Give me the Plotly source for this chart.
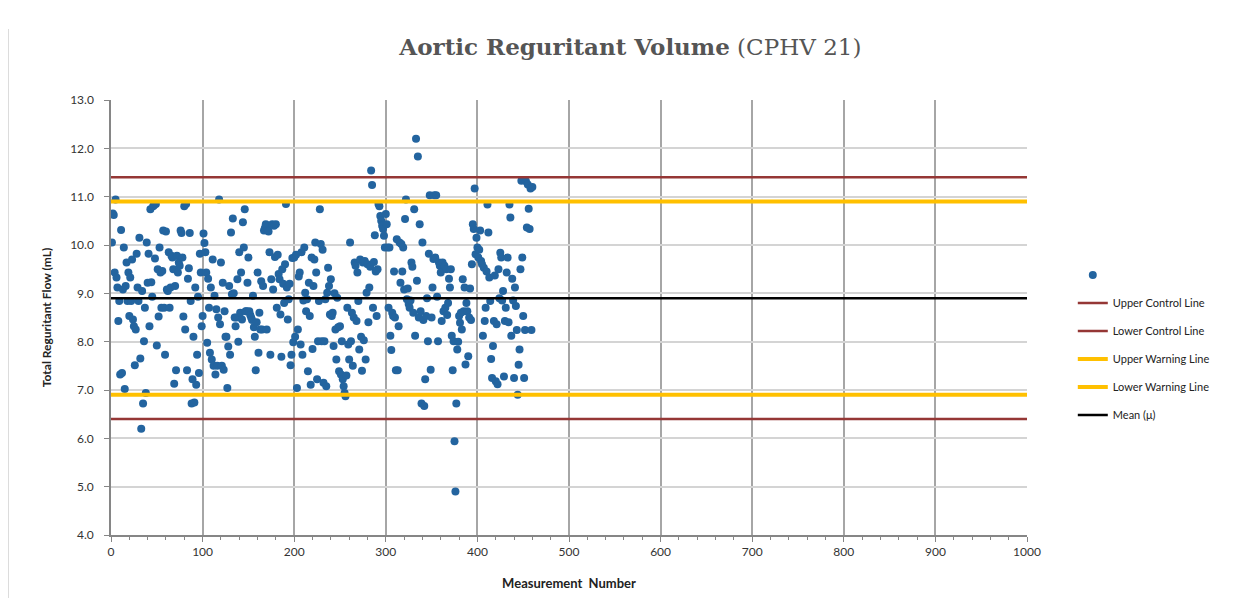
import plotly.graph_objects as go

measurement_values = [
    10.05, 10.65, 10.62, 9.43, 10.94, 9.33, 9.12, 8.43, 8.84, 7.32,
    10.31, 7.35, 9.08, 9.95, 7.02, 9.15, 9.64, 8.84, 9.43, 8.53,
    9.33, 8.84, 9.70, 8.46, 8.32, 7.51, 8.25, 9.82, 9.12, 8.84,
    10.15, 7.65, 6.20, 9.05, 6.72, 8.01, 8.70, 6.94, 10.05, 9.22,
    9.82, 8.32, 10.74, 9.23, 8.93, 10.80, 10.82, 9.72, 10.85, 7.92,
    9.50, 8.52, 9.95, 9.43, 8.70, 9.46, 10.30, 8.70, 7.73, 10.28,
    9.08, 9.05, 9.85, 8.70, 9.12, 9.78, 9.74, 9.50, 7.13, 9.15,
    7.41, 9.78, 9.43, 9.64, 9.57, 10.30, 10.25, 9.74, 8.52, 10.80,
    8.25, 10.85, 7.41, 9.30, 9.52, 10.25, 8.84, 6.72, 7.22, 8.10,
    6.74, 9.12, 7.11, 7.73, 8.93, 7.35, 9.82, 9.43, 8.32, 8.53,
    10.24, 10.04, 9.85, 9.43, 7.98, 9.30, 8.70, 7.77, 9.12, 7.63,
    9.70, 7.50, 8.95, 7.32, 8.67, 7.50, 8.50, 10.94, 8.36, 9.64,
    7.50, 9.22, 7.42, 8.63, 8.10, 8.10, 7.04, 7.90, 9.15, 7.73,
    10.26, 8.98, 10.55, 9.00, 8.50, 8.32, 8.50, 9.29, 8.00, 9.85,
    8.60, 9.43, 8.46, 10.47, 9.95, 10.74, 8.63, 8.63, 9.22, 9.74,
    8.63, 8.55, 8.50, 8.45, 8.95, 8.30, 8.10, 7.41, 8.40, 9.43,
    7.77, 8.60, 8.25, 9.25, 8.25, 9.15, 10.30, 10.35, 10.43, 8.25,
    10.30, 10.28, 9.85, 7.73, 9.29, 10.43, 9.08, 10.40, 9.75, 10.43,
    8.70, 9.80, 9.40, 9.29, 8.56, 7.69, 9.50, 9.20, 8.80, 9.60,
    10.85, 9.12, 8.46, 8.88, 9.20, 7.51, 7.73, 9.73, 7.99, 9.74,
    8.10, 9.80, 7.04, 8.25, 9.35, 9.43, 7.94, 9.85, 7.73, 8.85,
    9.95, 9.01, 8.63, 8.88, 7.39, 9.22, 8.53, 7.11, 9.74, 7.85,
    9.15, 9.70, 10.05, 9.43, 7.22, 8.01, 8.84, 10.74, 10.02, 8.01,
    9.90, 7.15, 8.01, 8.88, 7.08, 9.01, 9.53, 9.15, 8.56, 9.29,
    8.53, 8.60, 7.91, 9.00, 8.25, 7.63, 8.91, 8.30, 7.39, 8.32,
    7.32, 8.01, 7.22, 7.08, 6.94, 6.87, 7.30, 8.70, 7.94, 7.63,
    10.05, 8.01, 8.60, 7.50, 8.50, 9.64, 9.57, 8.43, 9.43, 8.84,
    7.84, 9.70, 8.10, 7.40, 9.64, 8.03, 9.67, 7.63, 9.01, 9.60,
    8.40, 9.12, 9.55, 11.54, 11.24, 8.70, 9.65, 10.20, 9.45, 8.53,
    9.50, 10.85, 10.80, 10.60, 10.50, 10.40, 10.33, 10.19, 9.95, 10.64,
    10.43, 9.95, 8.70, 9.95, 8.12, 7.83, 8.60, 8.53, 9.45, 8.50,
    7.41, 10.12, 7.41, 8.32, 10.05, 9.22, 10.02, 9.45, 9.95, 9.08,
    10.54, 10.94, 8.88, 9.10, 8.78, 8.70, 8.85, 9.64, 9.55, 8.60,
    10.74, 8.12, 12.20, 9.26, 11.83, 8.50, 10.43, 8.63, 6.72, 10.05,
    8.45, 6.67, 7.22, 8.53, 8.90, 8.01, 9.82, 11.03, 7.42, 8.50,
    9.12, 9.71, 11.03, 9.74, 11.03, 8.93, 8.01, 9.64, 9.57, 9.43,
    8.43, 9.64, 8.63, 9.57, 8.70, 9.50, 8.55, 8.80, 9.30, 9.12,
    9.50, 8.12, 7.41, 8.01, 5.94, 4.90, 6.72, 7.84, 8.00, 8.53,
    8.39, 8.60, 8.25, 9.29, 8.63, 9.12, 7.53, 8.80, 8.63, 7.70,
    8.50, 9.10, 8.45, 9.60, 10.43, 10.33, 11.17, 9.81, 10.15, 9.95,
    9.74, 9.90, 10.30, 9.67, 9.60, 8.12, 9.53, 8.43, 8.70, 9.45,
    10.84, 10.26, 9.33, 8.84, 7.64, 7.25, 7.91, 8.43, 9.37, 7.18,
    8.36, 7.12, 9.50, 8.90, 9.84, 9.74, 8.85, 9.05, 7.28, 8.43,
    8.70, 9.43, 9.74, 8.40, 10.84, 10.57, 8.12, 9.30, 8.85, 7.25,
    9.12, 8.74, 8.24, 6.90, 7.52, 7.84, 9.50, 11.33, 9.74, 8.53,
    7.25, 8.24, 11.32, 10.36, 11.25, 10.75, 10.33, 11.17, 8.24, 11.20,
]
measurement_numbers = list(range(1, len(measurement_values) + 1))

line_names = ["Upper Control Line", "Lower Control Line", "Upper Warning Line",
              "Lower Warning Line", "Mean (\u03bc)"]
line_levels = [11.4, 6.4, 10.9, 6.9, 8.9]
line_colors = ["#953735", "#953735", "#ffc000", "#ffc000", "#000000"]
line_widths = [2.5, 2.5, 4, 4, 2.5]
line_x = [0, 1000]

y_ticks = [4.0, 5.0, 6.0, 7.0, 8.0, 9.0, 10.0, 11.0, 12.0, 13.0]
x_ticks = [0, 100, 200, 300, 400, 500, 600, 700, 800, 900, 1000]

fig = go.Figure()
fig.add_trace(go.Scatter(
    x=measurement_numbers, y=measurement_values, mode="markers", name=" ",
    marker=dict(color="#23649f", size=8), legendgroup="g0",
))
for i, (nm, lv, c, w) in enumerate(zip(line_names, line_levels, line_colors, line_widths)):
    fig.add_trace(go.Scatter(
        x=line_x, y=[lv, lv], mode="lines", name=nm,
        line=dict(color=c, width=w), legendgroup=f"g{i+1}",
    ))

tick_font = dict(family="Lato, Open Sans, sans-serif", size=12, color="#333333")

fig.update_layout(
    width=1246, height=598,
    paper_bgcolor="white", plot_bgcolor="white",
    margin=dict(l=103, r=227, t=92, b=71),
    title=dict(
        text="<b>Aortic Reguritant Volume</b> (CPHV 21)",
        x=0.4995, xanchor="center", xref="container", y=0.935, yanchor="middle",
        font=dict(family="DejaVu Serif, serif", size=23, color="#555555"),
    ),
    showlegend=True,
    legend=dict(
        x=1.05, xanchor="left", y=0.437, yanchor="middle",
        font=dict(family="Lato, Open Sans, sans-serif", size=11, color="#222222"),
        tracegroupgap=9, bgcolor="rgba(0,0,0,0)",
    ),
    xaxis=dict(
        range=[0, 1000], tickvals=x_ticks, ticktext=[str(v) for v in x_ticks],
        showgrid=True, gridcolor="#a6a6a6", gridwidth=1.5,
        showline=True, linecolor="#868686", linewidth=1.5,
        ticks="outside", ticklen=5, tickcolor="#868686",
        minor=dict(dtick=20, ticks="outside", ticklen=3, tickcolor="#868686", showgrid=False),
        tickfont=tick_font, zeroline=False,
        title=dict(text="<b>Measurement  Number</b>", standoff=21,
                   font=dict(family="Lato, Open Sans, sans-serif", size=13, color="#222222")),
    ),
    yaxis=dict(
        range=[4, 13], tickvals=y_ticks, ticktext=[f"{v:.1f}" for v in y_ticks],
        showgrid=True, gridcolor="#d4d4d4", gridwidth=1.5,
        showline=True, linecolor="#868686", linewidth=1.5,
        ticks="outside", ticklen=5, tickcolor="#868686",
        ticklabelstandoff=8,
        tickfont=tick_font, zeroline=False,
        title=dict(text="<b>Total Reguritant Flow (mL)</b>", standoff=16,
                   font=dict(family="Lato, Open Sans, sans-serif", size=12, color="#222222")),
    ),
)

fig.add_shape(type="line", xref="paper", yref="paper",
              x0=(0 - 103) / 916, x1=(0 - 103) / 916, y0=-71 / 435, y1=506 / 435,
              line=dict(color="#d0d0d0", width=1.5))
fig.add_shape(type="line", xref="paper", yref="paper",
              x0=(1232 - 103) / 916, x1=(1232 - 103) / 916, y0=-71 / 435, y1=506 / 435,
              line=dict(color="#d0d0d0", width=1.5))

fig.write_html("out.html")
